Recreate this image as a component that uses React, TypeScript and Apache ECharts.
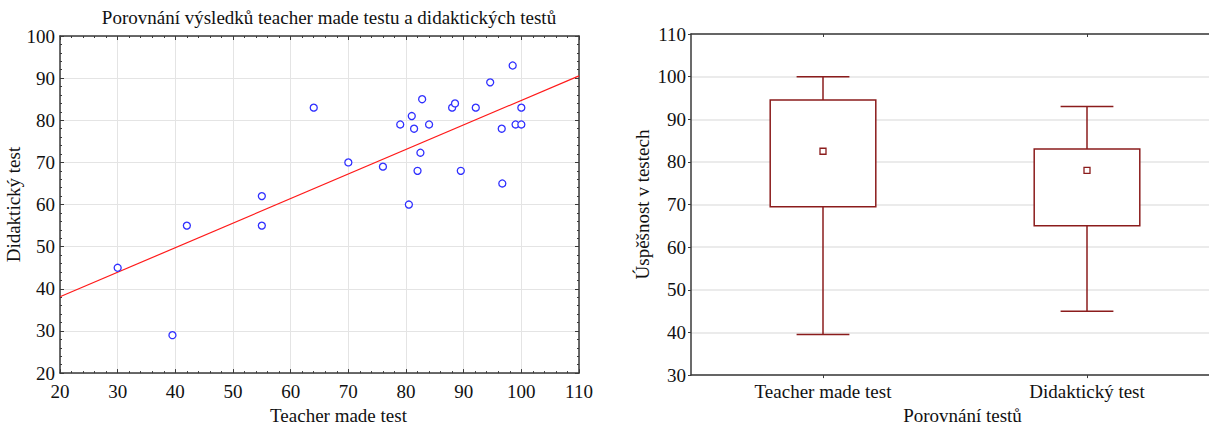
import React, { useEffect, useRef } from "react";
import * as echarts from "echarts";

// Scatter data: teacher made test (x) vs didactic test (y)
const teacherScores = [30, 39.5, 42, 55, 55, 64, 70, 76, 79, 80.5, 81, 81.4, 82, 82.5, 82.8, 84, 88, 88.5, 89.5, 92.1, 94.6, 96.6, 96.7, 98.5, 99, 100, 100];
const didacticScores = [45, 29, 55, 55, 62, 83, 70, 69, 79, 60, 81, 78, 68, 72.3, 85, 79, 83, 84, 68, 83, 89, 78, 65, 93, 79, 83, 79];

// Box plot summary
const boxCategories = ["Teacher made test", "Didaktický test"];
const whiskerLow = [39.5, 45];
const quartile1 = [69.5, 65];
const medians = [82.5, 78];
const quartile3 = [94.5, 83];
const whiskerHigh = [100, 93];

const scatterXTicks = { min: 20, max: 110, interval: 10 };
const scatterYTicks = { min: 20, max: 100, interval: 10 };
const boxYTicks = { min: 30, max: 110, interval: 10 };

const FONT = "Liberation Serif, Times New Roman, serif";
const TXT = "#111";
const AX = "#3a3a3a";
const GRID = "#e4e4e4";
const BOX = "#8b1c1c";

function linFit(xs: number[], ys: number[]) {
  const n = xs.length;
  const mx = xs.reduce((a, b) => a + b, 0) / n;
  const my = ys.reduce((a, b) => a + b, 0) / n;
  let sxy = 0, sxx = 0;
  for (let i = 0; i < n; i++) {
    sxy += (xs[i] - mx) * (ys[i] - my);
    sxx += (xs[i] - mx) ** 2;
  }
  const b = sxy / sxx;
  return { a: my - b * mx, b };
}

export default function App() {
  const ref = useRef<HTMLDivElement>(null);
  useEffect(() => {
    if (!ref.current) return;
    const chart = echarts.init(ref.current, null, { renderer: "svg" });
    const fit = linFit(teacherScores, didacticScores);
    const lineData = [scatterXTicks.min, scatterXTicks.max].map((x) => [x, fit.a + fit.b * x]);
    const label = { fontFamily: FONT, fontSize: 19, color: TXT };

    chart.setOption({
      animation: false,
      graphic: [
        {
          type: "text",
          x: 329,
          y: 17,
          style: {
            text: "Porovnání výsledků teacher made testu a didaktických testů",
            font: `19px ${FONT}`,
            fill: TXT,
            align: "center",
            verticalAlign: "middle",
          },
        },
      ],
      grid: [
        { left: 60, top: 36, width: 519, height: 347 },
        { left: 691, top: 34, width: 528, height: 347 },
      ],
      xAxis: [
        {
          type: "value",
          gridIndex: 0,
          ...scatterXTicks,
          name: "Teacher made test",
          nameLocation: "middle",
          nameGap: 30,
          nameTextStyle: { ...label, padding: [0, 0, 0, 38] },
          axisLabel: { ...label, margin: 9 },
          axisLine: { show: true, lineStyle: { color: AX, width: 1.5 } },
          axisTick: { show: true, inside: true, length: 4, lineStyle: { color: AX } },
          minorTick: { show: true, splitNumber: 5, length: 2, lineStyle: { color: AX } },
          splitLine: { show: true, lineStyle: { color: GRID } },
        },
        {
          type: "value",
          gridIndex: 0,
          position: "top",
          ...scatterXTicks,
          axisLabel: { show: false },
          axisLine: { show: true, lineStyle: { color: AX, width: 1.5 } },
          axisTick: { show: true, inside: true, length: 4, lineStyle: { color: AX } },
          minorTick: { show: true, splitNumber: 5, length: 2, lineStyle: { color: AX } },
          splitLine: { show: false },
        },
        {
          type: "category",
          gridIndex: 1,
          data: boxCategories,
          boundaryGap: true,
          name: "Porovnání testů",
          nameLocation: "middle",
          nameGap: 28,
          nameTextStyle: { ...label, padding: [0, 0, 0, 15] },
          axisLabel: { ...label, margin: 7 },
          axisLine: { show: true, lineStyle: { color: AX, width: 1.5 } },
          axisTick: { show: true, alignWithLabel: true, length: 3, lineStyle: { color: AX } },
          splitLine: { show: false },
        },
        {
          type: "category",
          gridIndex: 1,
          position: "top",
          data: boxCategories,
          boundaryGap: true,
          axisLabel: { show: false },
          axisLine: { show: true, lineStyle: { color: AX, width: 1.5 } },
          axisTick: { show: true, alignWithLabel: true, inside: true, length: 3, lineStyle: { color: AX } },
          splitLine: { show: false },
        },
      ],
      yAxis: [
        {
          type: "value",
          gridIndex: 0,
          ...scatterYTicks,
          name: "Didaktický test",
          nameLocation: "middle",
          nameGap: 33,
          nameTextStyle: label,
          axisLabel: { ...label, margin: 5 },
          axisLine: { show: true, lineStyle: { color: AX, width: 1.5 } },
          axisTick: { show: true, inside: true, length: 4, lineStyle: { color: AX } },
          minorTick: { show: true, splitNumber: 5, length: 2, lineStyle: { color: AX } },
          splitLine: { show: true, lineStyle: { color: GRID } },
        },
        {
          type: "value",
          gridIndex: 0,
          position: "right",
          ...scatterYTicks,
          axisLabel: { show: false },
          axisLine: { show: true, lineStyle: { color: AX, width: 1.5 } },
          axisTick: { show: true, inside: true, length: 4, lineStyle: { color: AX } },
          minorTick: { show: true, splitNumber: 5, length: 2, lineStyle: { color: AX } },
          splitLine: { show: false },
        },
        {
          type: "value",
          gridIndex: 1,
          ...boxYTicks,
          name: "Úspěšnost v testech",
          nameLocation: "middle",
          nameGap: 39,
          nameTextStyle: label,
          axisLabel: { ...label, margin: 5 },
          axisLine: { show: true, lineStyle: { color: AX, width: 1.5 } },
          axisTick: { show: true, length: 3, lineStyle: { color: AX } },
          splitLine: { show: true, lineStyle: { color: GRID, width: 1.5 } },
        },
      ],
      series: [
        {
          type: "scatter",
          xAxisIndex: 0,
          yAxisIndex: 0,
          data: teacherScores.map((x, i) => [x, didacticScores[i]]),
          symbol: "circle",
          symbolSize: 7,
          itemStyle: { color: "#ffffff", borderColor: "#2f2fff", borderWidth: 1.3, opacity: 1 },
          z: 3,
        },
        {
          type: "line",
          xAxisIndex: 0,
          yAxisIndex: 0,
          data: lineData,
          showSymbol: false,
          symbol: "none",
          lineStyle: { color: "#ff1a1a", width: 1.2 },
          z: 2,
        },
        {
          type: "custom",
          xAxisIndex: 2,
          yAxisIndex: 2,
          encode: { x: 0, y: [1, 2, 3, 4, 5] },
          data: boxCategories.map((_, i) => [i, whiskerLow[i], quartile1[i], medians[i], quartile3[i], whiskerHigh[i]]),
          renderItem: (params: any, api: any) => {
            const idx = api.value(0);
            const pLo = api.coord([idx, api.value(1)]);
            const pQ1 = api.coord([idx, api.value(2)]);
            const pMed = api.coord([idx, api.value(3)]);
            const pQ3 = api.coord([idx, api.value(4)]);
            const pHi = api.coord([idx, api.value(5)]);
            const band = api.size([1, 0])[0];
            const bw = band * 0.4;
            const cw = band * 0.2;
            const cx = pLo[0];
            const st = { stroke: BOX, lineWidth: 1.5, fill: null };
            return {
              type: "group",
              children: [
                { type: "line", shape: { x1: cx, y1: pLo[1], x2: cx, y2: pQ1[1] }, style: st },
                { type: "line", shape: { x1: cx, y1: pQ3[1], x2: cx, y2: pHi[1] }, style: st },
                { type: "line", shape: { x1: cx - cw / 2, y1: pLo[1], x2: cx + cw / 2, y2: pLo[1] }, style: st },
                { type: "line", shape: { x1: cx - cw / 2, y1: pHi[1], x2: cx + cw / 2, y2: pHi[1] }, style: st },
                {
                  type: "rect",
                  shape: { x: cx - bw / 2, y: pQ3[1], width: bw, height: pQ1[1] - pQ3[1] },
                  style: { stroke: BOX, lineWidth: 1.5, fill: "#ffffff" },
                },
                {
                  type: "rect",
                  shape: { x: pMed[0] - 3, y: pMed[1] - 3, width: 6, height: 6 },
                  style: { stroke: BOX, lineWidth: 1.3, fill: "#ffffff" },
                },
              ],
            };
          },
          z: 3,
        },
      ],
    });
    return () => chart.dispose();
  }, []);
  return (
    <div
      ref={ref}
      style={{ position: "fixed", left: 0, top: 0, width: 1240, height: 430, background: "#fff" }}
    />
  );
}
